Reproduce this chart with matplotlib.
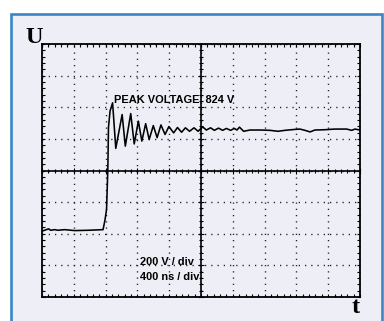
import matplotlib
matplotlib.use("Agg")
import matplotlib.pyplot as plt
import numpy as np
from matplotlib.patches import Rectangle
from matplotlib.ticker import MultipleLocator

# ---- data (time in ns, voltage in V relative to screen centre) ----
time_ns = [0, 54, 84, 108, 160, 200, 284, 412, 580, 768, 792, 812, 820, 828, 832, 836,
           856, 888, 928, 1008, 1048, 1116, 1160, 1212, 1256, 1304, 1348, 1400, 1448,
           1496, 1548, 1596, 1656, 1704, 1756, 1804, 1856, 1912, 1964, 2020, 2068, 2120,
           2168, 2220, 2272, 2320, 2372, 2420, 2452, 2484, 2536, 2616, 2744, 2868, 2968,
           3056, 3184, 3244, 3308, 3372, 3432, 3560, 3684, 3832, 3896, 3936, 4000]
volts = [-384, -374, -369, -378, -374, -378, -374, -380, -378, -374, -314, -246, -120, 6,
         132, 272, 376, 428, 140, 354, 154, 360, 168, 312, 186, 296, 196, 284, 208, 288,
         228, 278, 238, 272, 242, 270, 248, 270, 248, 276, 256, 270, 254, 268, 254, 266,
         254, 266, 256, 274, 248, 256, 256, 254, 248, 254, 260, 262, 254, 244, 256, 258,
         262, 262, 254, 262, 256]

peak_label = "PEAK VOLTAGE  824 V"
scale_labels = ["200 V / div", "400 ns / div"]
t_per_div = 400
v_per_div = 200

W, H = 384, 321
bg = "#eeeef6"
fig = plt.figure(figsize=(W / 100, H / 100), dpi=100, facecolor="white")

# blue frame
frame = Rectangle((10.5 / W, -0.2), (382 - 10.5) / W, 1.2 - 13.5 / H,
                  transform=fig.transFigure, facecolor=bg,
                  edgecolor="#3d84c6", linewidth=1.9, zorder=-10)
fig.patches.append(frame)

rect = [42 / W, (H - 297) / H, 318 / W, 253 / H]
ax = fig.add_axes(rect)
ax.set_zorder(1)
ax.set_facecolor("none")
ax.set_xlim(0, 10 * t_per_div)
ax.set_ylim(-4 * v_per_div, 4 * v_per_div)
for s in ax.spines.values():
    s.set_linewidth(1.3)
    s.set_color("black")
ax.xaxis.set_major_locator(MultipleLocator(t_per_div))
ax.yaxis.set_major_locator(MultipleLocator(v_per_div))
ax.xaxis.set_minor_locator(MultipleLocator(t_per_div / 5))
ax.yaxis.set_minor_locator(MultipleLocator(v_per_div / 5))
ax.tick_params(which="both", direction="in", top=True, right=True,
               labelbottom=False, labelleft=False, width=0.8, color="black")
ax.tick_params(which="major", length=2.5)
ax.tick_params(which="minor", length=2)
ax.grid(True, which="major", color="#222222", linewidth=1.0,
        linestyle=(0, (0.9, 3.6)))

# centre axes with tick marks
ax2 = fig.add_axes(rect, sharex=ax, sharey=ax)
ax2.set_zorder(2)
ax2.set_facecolor("none")
ax2.spines["top"].set_visible(False)
ax2.spines["right"].set_visible(False)
ax2.spines["left"].set_position(("data", 5 * t_per_div))
ax2.spines["bottom"].set_position(("data", 0))
for s in ("left", "bottom"):
    ax2.spines[s].set_linewidth(1.2)
ax2.tick_params(which="both", direction="inout", labelbottom=False,
                labelleft=False, width=0.8)
ax2.tick_params(which="major", length=4)
ax2.tick_params(which="minor", length=3)
ax2.grid(False)

ax2.plot(time_ns, volts, color="black", linewidth=1.15, zorder=5)

ax2.text(906, 430, peak_label, fontsize=7.9, fontweight="bold",
         family="Liberation Sans", va="baseline", ha="left", zorder=6)
ax2.text(1233, -595, scale_labels[0], fontsize=7.9, fontweight="bold",
         family="Liberation Sans", va="baseline", ha="left", zorder=6)
ax2.text(1233, -690, scale_labels[1], fontsize=7.9, fontweight="bold",
         family="Liberation Sans", va="baseline", ha="left", zorder=6)

fig.text(34 / W, 1 - 43 / H, "U", fontsize=17.5, fontweight="bold",
         family="Liberation Serif", ha="center", va="baseline")
fig.text(355.5 / W, 1 - 313 / H, "t", fontsize=17.5, fontweight="bold",
         family="Liberation Serif", ha="center", va="baseline")

fig.savefig("out.png", dpi=100, facecolor="white")
